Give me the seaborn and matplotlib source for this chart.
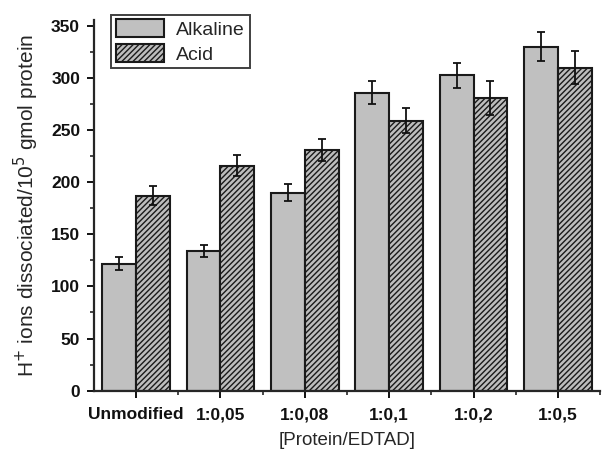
import matplotlib
matplotlib.use("Agg")
import matplotlib.pyplot as plt
from matplotlib.patches import Patch
from matplotlib.ticker import MultipleLocator
import seaborn as sns
import pandas as pd
import numpy as np

categories = ["Unmodified", "1:0,05", "1:0,08", "1:0,1", "1:0,2", "1:0,5"]
alkaline = [122, 134, 190, 286, 303, 330]
alkaline_err = [6, 6, 8, 11, 12, 14]
acid = [187, 216, 231, 259, 281, 310]
acid_err = [9, 10, 11, 12, 16, 16]
series = ["Alkaline", "Acid"]

sns.set_style("ticks")
plt.rcParams['font.family'] = ['Liberation Sans', 'DejaVu Sans']
plt.rcParams['hatch.linewidth'] = 1.0
plt.rcParams['hatch.color'] = '#222222'

df = pd.DataFrame({
    "cat": categories * 2,
    "val": alkaline + acid,
    "err": alkaline_err + acid_err,
    "series": [series[0]] * len(categories) + [series[1]] * len(categories),
})

fig = plt.figure(figsize=(6.02, 4.5), dpi=100)
ax = fig.add_axes([0.156, 0.132, 0.841, 0.824])

sns.barplot(data=df, x="cat", y="val", hue="series", order=categories,
            hue_order=series, palette=["#c0c0c0", "#bdbdbd"], errorbar=None,
            width=0.8, edgecolor="#1a1a1a", linewidth=1.5, ax=ax, legend=False)

nc = len(categories)
patches = [p for p in ax.patches if p.get_height() > 0][:2 * nc]
errs = alkaline_err + acid_err
vals = alkaline + acid
for i, p in enumerate(patches):
    if i >= nc:
        p.set_hatch("//////")
    xc = p.get_x() + p.get_width() / 2
    ax.errorbar(xc, vals[i], yerr=errs[i], fmt="none", ecolor="#111111",
                elinewidth=1.3, capsize=3, capthick=1.3, zorder=5)

ax.set_xlim(-0.5, nc - 0.5)
ax.set_ylim(0, 356)
ax.yaxis.set_major_locator(MultipleLocator(50))
ax.yaxis.set_minor_locator(MultipleLocator(25))
ax.set_xticks(np.arange(nc))
ax.set_xticks(np.arange(nc) + 0.5, minor=True)
ax.set_xticklabels(categories)
ax.tick_params(axis="both", which="major", direction="out", length=5, width=1.4,
               labelsize=12.5, colors="#111111", pad=5)
ax.tick_params(axis="x", which="major", pad=7)
ax.tick_params(axis="both", which="minor", direction="out", length=3, width=1.2)
for lab in ax.get_xticklabels() + ax.get_yticklabels():
    lab.set_fontweight("bold")

sns.despine(ax=ax)
ax.spines["left"].set_linewidth(1.6)
ax.spines["bottom"].set_linewidth(1.6)

ax.set_xlabel("[Protein/EDTAD]", fontsize=13.5, labelpad=7)
ax.set_ylabel("H$^{+}$ ions dissociated/10$^{5}$ gmol protein", fontsize=15, labelpad=7)

handles = [Patch(facecolor="#c0c0c0", edgecolor="#1a1a1a", linewidth=1.5, label="Alkaline"),
           Patch(facecolor="#bdbdbd", edgecolor="#1a1a1a", linewidth=1.5, hatch="//////", label="Acid")]
leg = ax.legend(handles=handles, loc="upper left", bbox_to_anchor=(0.022, 1.03),
                frameon=True, fancybox=False, edgecolor="#111111", fontsize=14,
                handlelength=2.5, handleheight=1.05, borderpad=0.25, labelspacing=0.25,
                handletextpad=0.6, borderaxespad=0.3)
leg.get_frame().set_linewidth(1.4)

fig.savefig("out.png", dpi=100)
